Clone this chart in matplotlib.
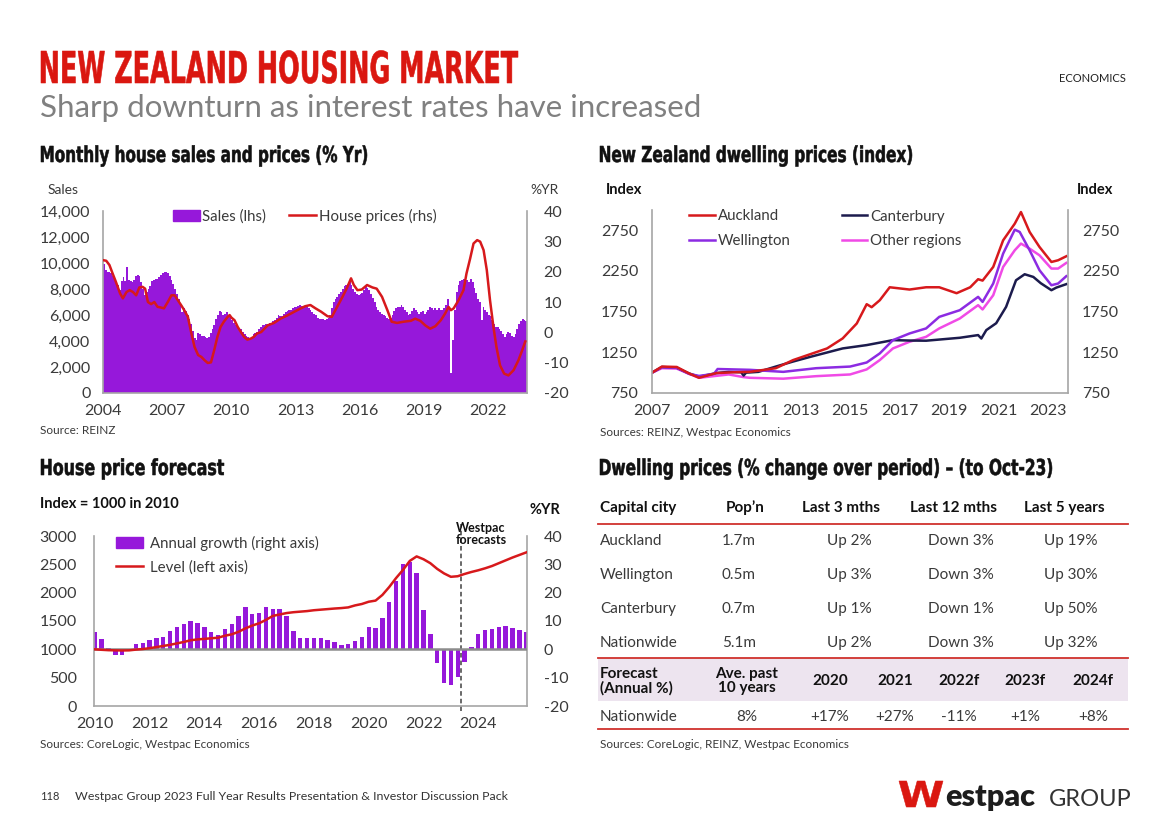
import numpy as np
import matplotlib
matplotlib.use('Agg')
import matplotlib.pyplot as plt
from matplotlib.ticker import FuncFormatter
from matplotlib.patches import Patch, PathPatch, Rectangle
from matplotlib.lines import Line2D
from matplotlib.textpath import TextPath
from matplotlib.font_manager import FontProperties
from matplotlib.transforms import Affine2D

# ---------------- data ----------------
# monthly house sales (thousands), Jan 2004 - Oct 2023
sales_k = [
    9.9, 9.5, 9.3, 9.3, 9.2, 9.0, 8.9, 8.6, 8.3, 7.9, 8.6, 8.9,   # 2004
    8.6, 9.7, 8.7, 8.6, 8.5, 8.7, 9.0, 9.1, 9.0, 8.5, 8.0, 7.5,   # 2005
    7.8, 8.0, 8.2, 8.6, 8.7, 8.8, 8.8, 8.9, 9.1, 9.2, 9.3, 9.3,   # 2006
    9.2, 9.0, 8.7, 8.4, 8.0, 7.6, 7.2, 6.8, 6.2, 6.5, 6.3, 6.0,   # 2007
    5.7, 5.3, 4.8, 4.2, 4.1, 4.6, 4.5, 4.4, 4.4, 4.3, 4.2, 4.3,   # 2008
    4.6, 4.9, 5.2, 5.7, 6.0, 6.3, 6.2, 6.0, 6.1, 6.2, 6.0, 5.9,   # 2009
    5.6, 5.4, 5.2, 5.1, 5.0, 4.9, 4.7, 4.5, 4.4, 4.3, 4.2, 4.3,   # 2010
    4.5, 4.6, 4.7, 4.9, 5.1, 5.2, 5.2, 5.3, 5.3, 5.4, 5.4, 5.5,   # 2011
    5.6, 5.8, 6.0, 5.9, 5.9, 6.1, 6.2, 6.3, 6.4, 6.4, 6.5, 6.6,   # 2012
    6.6, 6.7, 6.8, 6.7, 6.6, 6.7, 6.6, 6.5, 6.4, 6.2, 6.1, 6.0,   # 2013
    5.8, 5.7, 5.7, 5.7, 5.6, 5.7, 5.8, 6.0, 6.5, 7.0, 7.2, 7.4,   # 2014
    7.6, 7.8, 8.0, 8.2, 8.3, 8.4, 8.6, 8.3, 8.0, 7.8, 7.6, 7.5,   # 2015
    7.6, 7.7, 7.9, 8.2, 8.1, 7.9, 7.6, 7.3, 7.0, 6.6, 6.4, 6.2,   # 2016
    6.1, 6.0, 5.9, 5.8, 5.7, 5.8, 6.0, 6.3, 6.5, 6.6, 6.6, 6.8,   # 2017
    6.6, 6.4, 6.2, 6.0, 6.1, 6.3, 6.5, 6.4, 6.2, 6.1, 6.2, 6.3,   # 2018
    6.1, 6.2, 6.4, 6.6, 6.5, 6.4, 6.5, 6.4, 6.5, 6.4, 6.4, 6.5,   # 2019
    6.8, 7.2, 6.5, 1.5, 4.1, 6.4, 7.8, 8.3, 8.6, 8.7, 8.8, 8.6,   # 2020
    8.7, 8.5, 8.8, 8.5, 8.1, 7.7, 7.2, 7.0, 5.6, 6.6, 6.4, 6.2,   # 2021
    6.0, 5.9, 5.6, 5.3, 5.1, 5.1, 4.9, 4.8, 4.5, 4.3, 4.5, 4.7,   # 2022
    4.6, 4.4, 4.3, 4.5, 4.9, 5.3, 5.5, 5.7, 5.6, 5.5,             # 2023
]

# house prices, annual % change
price_t = [2004.0, 2004.15, 2004.3, 2004.45, 2004.6, 2004.8, 2004.93, 2005.1, 2005.25, 2005.4,
           2005.55, 2005.7, 2005.85, 2005.97, 2006.1, 2006.25, 2006.4, 2006.55, 2006.7, 2006.85,
           2007.03, 2007.2, 2007.35, 2007.5, 2007.65, 2007.8, 2007.97, 2008.12, 2008.28, 2008.45,
           2008.6, 2008.75, 2008.9, 2009.05, 2009.2, 2009.35, 2009.5, 2009.65, 2009.83, 2009.92,
           2010.0, 2010.15, 2010.3, 2010.45, 2010.6, 2010.75, 2010.9, 2011.05, 2011.2, 2011.4,
           2011.7, 2012.0, 2012.3, 2012.63, 2012.95, 2013.25, 2013.45, 2013.7, 2013.94, 2014.2,
           2014.5, 2014.7, 2014.95, 2015.2, 2015.4, 2015.6, 2015.73, 2015.9, 2016.1, 2016.35,
           2016.6, 2016.8, 2017.05, 2017.3, 2017.5, 2017.75, 2018.06, 2018.4, 2018.6, 2018.84,
           2019.07, 2019.3, 2019.54, 2019.8, 2020.0, 2020.16, 2020.27, 2020.4, 2020.63, 2020.86,
           2021.0, 2021.17, 2021.33, 2021.5, 2021.64, 2021.8, 2021.95, 2022.1, 2022.26, 2022.4,
           2022.57, 2022.76, 2022.96, 2023.2, 2023.43, 2023.6, 2023.75]
price_pct = [23.8, 23.6, 22.2, 19.4, 16.7, 12.8, 11.2, 13.3, 13.9, 13.3,
             12.2, 14.8, 15.0, 14.4, 10.0, 9.3, 10.0, 8.4, 8.2, 7.9,
             10.0, 12.2, 12.2, 10.6, 9.0, 7.3, 5.1, 0.1, -4.8, -7.5,
             -8.1, -9.2, -10.1, -9.9, -5.9, -1.5, 1.8, 3.5, 5.1, 5.7,
             4.9, 4.0, 1.8, 0.1, -1.5, -2.4, -2.1, -1.5, -0.4, 0.1,
             2.3, 3.1, 4.5, 5.6, 6.8, 7.9, 8.6, 9.0, 7.9, 6.8,
             5.3, 5.1, 8.4, 11.7, 14.5, 17.8, 15.6, 13.9, 14.1, 15.6,
             14.8, 14.4, 11.7, 7.3, 3.5, 3.1, 3.5, 3.8, 4.5, 3.8,
             2.3, 1.2, 2.0, 4.0, 6.2, 8.4, 7.3, 7.9, 10.6, 13.9,
             19.4, 24.3, 29.3, 30.4, 29.9, 27.1, 20.5, 10.6, 1.8, -4.8,
             -10.9, -13.6, -14.2, -12.5, -9.2, -6.0, -3.0]

# dwelling price indices
akl_t = [2007.0, 2007.4, 2008.0, 2008.5, 2008.9, 2009.6, 2010.3, 2010.95, 2012.0, 2012.7,
         2013.4, 2014.07, 2014.7, 2015.27, 2015.67, 2015.87, 2016.2, 2016.6, 2017.4, 2018.07,
         2018.6, 2019.3, 2019.85, 2020.17, 2020.35, 2020.78, 2021.18, 2021.65, 2021.9, 2022.25,
         2022.65, 2023.13, 2023.4, 2023.73]
akl_v = [1000, 1075, 1070, 990, 937, 995, 1005, 1010, 1055, 1155,
         1228, 1298, 1421, 1605, 1842, 1805, 1891, 2050, 2022, 2050,
         2050, 1977, 2050, 2149, 2132, 2300, 2627, 2832, 2975, 2730,
         2545, 2361, 2382, 2431]
chc_t = [2007.0, 2007.4, 2008.0, 2008.5, 2008.9, 2009.6, 2010.1, 2010.6, 2010.7, 2010.8,
         2011.3, 2012.0, 2012.7, 2013.4, 2014.7, 2015.67, 2016.73, 2017.4, 2018.07, 2019.43,
         2020.17, 2020.3, 2020.5, 2020.9, 2021.3, 2021.7, 2022.05, 2022.4, 2022.7, 2023.13,
         2023.33, 2023.73]
chc_v = [1000, 1070, 1060, 990, 950, 995, 1010, 1005, 965, 1000,
         1010, 1075, 1137, 1195, 1298, 1339, 1400, 1395, 1393, 1429,
         1462, 1420, 1523, 1608, 1809, 2136, 2210, 2177, 2100, 2014,
         2046, 2088]
wgn_t = [2007.0, 2007.4, 2008.0, 2008.5, 2008.9, 2009.5, 2009.65, 2010.95, 2012.3, 2013.63,
         2015.0, 2015.67, 2016.2, 2016.73, 2017.4, 2018.07, 2018.6, 2019.43, 2020.17, 2020.35,
         2020.78, 2021.18, 2021.65, 2021.85, 2022.25, 2022.65, 2023.13, 2023.4, 2023.73]
wgn_v = [1000, 1065, 1060, 985, 960, 985, 1045, 1035, 1010, 1055,
         1075, 1125, 1237, 1400, 1482, 1544, 1686, 1768, 1932, 1870,
         2096, 2464, 2758, 2730, 2505, 2259, 2075, 2096, 2186]
oth_t = [2007.0, 2007.4, 2008.0, 2008.5, 2008.9, 2010.1, 2010.7, 2010.95, 2012.3, 2013.63,
         2015.0, 2015.67, 2016.2, 2016.73, 2017.4, 2018.07, 2018.6, 2019.43, 2020.17, 2020.35,
         2020.78, 2021.18, 2021.65, 2021.9, 2022.25, 2022.65, 2023.13, 2023.4, 2023.73]
oth_v = [1000, 1055, 1050, 985, 937, 978, 945, 937, 926, 957,
         978, 1040, 1155, 1298, 1380, 1441, 1544, 1666, 1830, 1777,
         1952, 2300, 2505, 2587, 2525, 2443, 2280, 2280, 2349]

# house price forecast, quarterly from 2010Q1 to 2025Q4
growth_pct = [6.2, 3.5, 0.4, -2.0,  -2.0, 0.1, 1.9, 2.4,  3.3, 4.1, 4.5, 6.5,  7.8, 8.9, 10.1, 9.2,
              7.8, 6.2, 4.9, 7.1,  9.1, 11.8, 15.1, 12.4,  12.8, 15.1, 14.4, 14.4,  11.8, 6.6, 3.9, 3.9,
              3.9, 3.9, 3.3, 2.5,  1.5, 1.8, 3.1, 4.2,  7.8, 7.4, 10.9, 16.8,  24.2, 30.0, 30.9, 27.1,
              13.9, 5.3, -4.7, -11.8,  -12.6, -9.6, -4.4, 0.9,  5.3, 6.8, 7.2, 8.0,  8.2, 7.6, 6.8, 6.2]
level = [1000, 992, 985, 982,  980, 982, 995, 1005,  1020, 1040, 1060, 1080,  1105, 1130, 1160, 1175,
         1185, 1195, 1205, 1240,  1265, 1310, 1370, 1420,  1460, 1520, 1590, 1615,  1640, 1655, 1665, 1675,
         1690, 1700, 1710, 1720,  1728, 1740, 1775, 1800,  1840, 1860, 1960, 2100,  2258, 2400, 2560, 2640,
         2590, 2520, 2420, 2340,  2280, 2290, 2330, 2365,  2395, 2430, 2470, 2520,  2570, 2620, 2665, 2710]
forecast_start = 2023.38

# table
tbl_header = ['Capital city', 'Pop\u2019n', 'Last 3 mths', 'Last 12 mths', 'Last 5 years']
cities = ['Auckland', 'Wellington', 'Canterbury', 'Nationwide']
pops = ['1.7m', '0.5m', '0.7m', '5.1m']
last3 = ['Up 2%', 'Up 3%', 'Up 1%', 'Up 2%']
last12 = ['Down 3%', 'Down 3%', 'Down 1%', 'Down 3%']
last5 = ['Up 19%', 'Up 30%', 'Up 50%', 'Up 32%']
fc_header = ['Forecast\n(Annual %)', 'Ave. past\n10 years', '2020', '2021', '2022f', '2023f', '2024f']
fc_row = ['Nationwide', '8%', '+17%', '+27%', '-11%', '+1%', '+8%']

# ---------------- style ----------------
RED = '#d7191c'
TITLE_RED = '#da1710'
PURPLE = '#9618da'
NAVY = '#1c1b4d'
WGN = '#8c2be2'
PINK = '#f04ae6'
GREY = '#a6a6a6'
TXT = '#3a3a3a'

plt.rcParams['font.family'] = ['Lato', 'DejaVu Sans']
plt.rcParams['font.size'] = 11
plt.rcParams['axes.unicode_minus'] = False

W, H = 1168, 825
fig = plt.figure(figsize=(W / 100, H / 100), dpi=100)


def box(l, t, r, b):
    return [l / W, 1 - b / H, (r - l) / W, (b - t) / H]


def fx(x):
    return x / W


def fy(y):
    return 1 - y / H


HEAD = FontProperties(family=['Liberation Sans Narrow', 'DejaVu Sans'], weight='bold')
CAP = TextPath((0, 0), 'H', size=100, prop=HEAD).get_extents().height


def head(s, x, base, width, cap, color='#111111'):
    # condensed heading drawn as a path, fitted to width and cap height (px)
    tp = TextPath((0, 0), s, size=100, prop=HEAD)
    bb = tp.get_extents()
    sx = width / bb.width
    sy = cap / CAP
    tr = (Affine2D().translate(-bb.x0, 0).scale(sx / 100, sy / 100)
          .translate(x / 100, (H - base) / 100) + fig.dpi_scale_trans)
    fig.add_artist(PathPatch(tp, transform=tr, facecolor=color, edgecolor=color, lw=0.4))


def style_axes(ax):
    for s in ['left', 'right', 'bottom']:
        ax.spines[s].set_color(GREY)
        ax.spines[s].set_linewidth(1.2)
    ax.spines['top'].set_visible(False)
    ax.tick_params(length=0, labelsize=11.5, labelcolor=TXT)


# ---------------- header ----------------
head('NEW ZEALAND HOUSING MARKET', 41, 83, 477, 32, TITLE_RED)
fig.text(fx(40), fy(117), 'Sharp downturn as interest rates have increased', fontsize=22.5,
         color='#808080', va='baseline')
fig.text(fx(1126), fy(78), 'ECONOMICS', fontsize=8, color='#222222', ha='right', va='center')

head('Monthly house sales and prices (% Yr)', 41, 162, 326, 16)
head('New Zealand dwelling prices (index)', 600, 162, 312, 16)
head('House price forecast', 41, 475, 183, 16)
head('Dwelling prices (% change over period) \u2013 (to Oct-23)', 600, 475, 452, 16)

# ---------------- chart 1: sales and prices ----------------
ax1 = fig.add_axes(box(103, 211, 527, 393))
dates = 2004 + np.arange(len(sales_k)) / 12
ax1.bar(dates, np.array(sales_k) * 1000, width=1 / 12, align='edge', color=PURPLE, linewidth=0)
ax1.set_xlim(2004, 2023.83)
ax1.set_ylim(0, 14000)
ax1.set_yticks(range(0, 14001, 2000))
ax1.yaxis.set_major_formatter(FuncFormatter(lambda v, p: f'{v:,.0f}'))
ax1.set_xticks(range(2004, 2023, 3))
style_axes(ax1)
ax1.tick_params(axis='y', pad=9)
ax1.tick_params(axis='x', pad=8)

ax1r = ax1.twinx()
ax1r.plot(price_t, price_pct, color=RED, lw=1.8)
ax1r.set_ylim(-20, 40)
ax1r.set_yticks(range(-20, 41, 10))
ax1r.set_xlim(2004, 2023.83)
for s in ax1r.spines.values():
    s.set_visible(False)
ax1r.tick_params(length=0, labelsize=11.5, labelcolor=TXT, pad=12)

fig.text(fx(48), fy(190), 'Sales', fontsize=10, color=TXT, va='center')
fig.text(fx(530), fy(190), '%YR', fontsize=10, color=TXT, va='center')
fig.legend([Patch(color=PURPLE), Line2D([], [], color=RED, lw=1.8)],
           ['Sales (lhs)', 'House prices (rhs)'], ncol=2, frameon=False,
           loc='center left', bbox_to_anchor=(fx(165), fy(216)), fontsize=10.8,
           handlelength=1.8, handletextpad=0.2, columnspacing=1.5, borderpad=0,
           labelcolor=TXT)
fig.text(fx(40), fy(431), 'Source: REINZ', fontsize=8.5, color=TXT, va='center')

# ---------------- chart 2: dwelling prices ----------------
ax2 = fig.add_axes(box(652, 210, 1068, 393))
ax2.plot(oth_t, oth_v, color=PINK, lw=1.8)
ax2.plot(chc_t, chc_v, color=NAVY, lw=1.8)
ax2.plot(wgn_t, wgn_v, color=WGN, lw=1.8)
ax2.plot(akl_t, akl_v, color=RED, lw=1.8)
ax2.set_xlim(2007, 2023.8)
ax2.set_ylim(750, 3000)
ax2.set_yticks([750, 1250, 1750, 2250, 2750])
ax2.set_xticks(range(2007, 2024, 2))
style_axes(ax2)
ax2.tick_params(axis='y', labelleft=True, labelright=True, pad=10)
ax2.tick_params(axis='x', pad=8)

fig.text(fx(606), fy(190), 'Index', fontsize=10.5, fontweight='bold', color='#111111', va='center')
fig.text(fx(1077), fy(190), 'Index', fontsize=10.5, fontweight='bold', color='#111111', va='center')
h2 = [Line2D([], [], color=c, lw=1.8) for c in [RED, WGN, NAVY, PINK]]
fig.legend(h2, ['Auckland', 'Wellington', 'Canterbury', 'Other regions'], ncol=2,
           frameon=False, loc='upper left', bbox_to_anchor=(fx(682), fy(202)), fontsize=10.8,
           handlelength=1.7, handletextpad=0.2, columnspacing=3.4, labelspacing=0.7,
           borderpad=0, labelcolor=TXT)
fig.text(fx(600), fy(432), 'Sources: REINZ, Westpac Economics', fontsize=8.5, color=TXT, va='center')

# ---------------- chart 3: forecast ----------------
ax3 = fig.add_axes(box(94, 536, 527, 706))
q = 2010 + np.arange(len(growth_pct)) * 0.25
ax3.bar(q, growth_pct, width=0.16, color=PURPLE, linewidth=0)
ax3.axhline(0, color='#8c8c8c', lw=1.8, zorder=3)
ax3.set_ylim(-20, 40)
ax3.set_yticks(range(-20, 41, 10))
ax3.set_xlim(2009.97, 2025.78)
ax3.set_xticks(range(2010, 2025, 2))
style_axes(ax3)
ax3.axvline(forecast_start, ymin=-0.03, ymax=1.07, color='#404040', ls=(0, (3, 2)), lw=1.1,
            clip_on=False)

# level line on a twin axis; growth labels go right, level labels left
ax3l = ax3.twinx()
ax3l.plot(q, level, color=RED, lw=1.8, zorder=4)
ax3l.set_ylim(0, 3000)
ax3l.set_yticks(range(0, 3001, 500))
for s in ax3l.spines.values():
    s.set_visible(False)
ax3.tick_params(axis='y', left=False, labelleft=False, right=False, labelright=True, pad=12)
ax3.tick_params(axis='x', pad=8)
ax3l.tick_params(axis='y', left=False, labelleft=True, right=False, labelright=False,
                 labelsize=11.5, labelcolor=TXT, pad=9)

fig.text(fx(40), fy(504), 'Index = 1000 in 2010', fontsize=10.5, fontweight='bold',
         color='#111111', va='center')
fig.text(fx(530), fy(510), '%YR', fontsize=10.5, fontweight='bold', color='#111111', va='center')
fig.text(fx(481), fy(534), 'Westpac\nforecasts', fontsize=9, fontweight='bold', color='#111111',
         ha='center', va='center', linespacing=1.0)
fig.legend([Patch(color=PURPLE), Line2D([], [], color=RED, lw=1.8)],
           ['Annual growth (right axis)', 'Level (left axis)'], frameon=False,
           loc='upper left', bbox_to_anchor=(fx(108), fy(528)), fontsize=10.8,
           handlelength=1.8, handletextpad=0.5, labelspacing=0.65, borderpad=0,
           labelcolor=TXT)
fig.text(fx(40), fy(744), 'Sources: CoreLogic, Westpac Economics', fontsize=8.5, color=TXT, va='center')

# ---------------- table ----------------
LINE_RED = '#d0312d'


def hline(y):
    fig.add_artist(Line2D([fx(598), fx(1128)], [fy(y), fy(y)], color=LINE_RED, lw=1.3))


hdr_x = [600, 745, 841, 954, 1064]
for i, (s, x) in enumerate(zip(tbl_header, hdr_x)):
    fig.text(fx(x), fy(508), s, fontsize=11, fontweight='bold', color='#111111',
             ha='left' if i == 0 else 'center', va='center')
hline(524)
row_y = [541, 575, 609, 643]
for k, y in enumerate(row_y):
    fig.text(fx(600), fy(y), cities[k], fontsize=11, color=TXT, va='center')
    fig.text(fx(739), fy(y), pops[k], fontsize=11, color=TXT, ha='center', va='center')
    fig.text(fx(849), fy(y), last3[k], fontsize=11, color=TXT, ha='center', va='center')
    fig.text(fx(961), fy(y), last12[k], fontsize=11, color=TXT, ha='center', va='center')
    fig.text(fx(1071), fy(y), last5[k], fontsize=11, color=TXT, ha='center', va='center')

fig.add_artist(Rectangle((fx(598), fy(701)), fx(1128) - fx(598), fy(658) - fy(701),
                         transform=fig.transFigure, facecolor='#ede4ef', edgecolor='none'))
hline(658)
fc_x = [600, 747, 830, 895, 959, 1025, 1093]
for i, (s, x) in enumerate(zip(fc_header, fc_x)):
    fig.text(fx(x), fy(681), s, fontsize=11, fontweight='bold', color='#111111',
             ha='left' if i == 0 else 'center', va='center', linespacing=1.0)
for i, (s, x) in enumerate(zip(fc_row, fc_x)):
    fig.text(fx(x), fy(717), s, fontsize=11, color=TXT,
             ha='left' if i == 0 else 'center', va='center')
hline(729)
fig.text(fx(600), fy(744), 'Sources: CoreLogic, REINZ, Westpac Economics', fontsize=8.5,
         color=TXT, va='center')

# ---------------- footer ----------------
fig.text(fx(40), fy(796), '118', fontsize=8, color='#333333', va='center')
fig.text(fx(75), fy(796), 'Westpac Group 2023 Full Year Results Presentation & Investor Discussion Pack',
         fontsize=8.9, color='#333333', va='center')
head('W', 899, 807, 44, 26, TITLE_RED)
fig.text(fx(945), fy(806), 'estpac', fontsize=22, fontweight='heavy', color='#1d1d1d', va='baseline')
fig.text(fx(1049), fy(806), 'GROUP', fontsize=17, color='#333333', va='baseline')

fig.savefig('out.png', dpi=100)
